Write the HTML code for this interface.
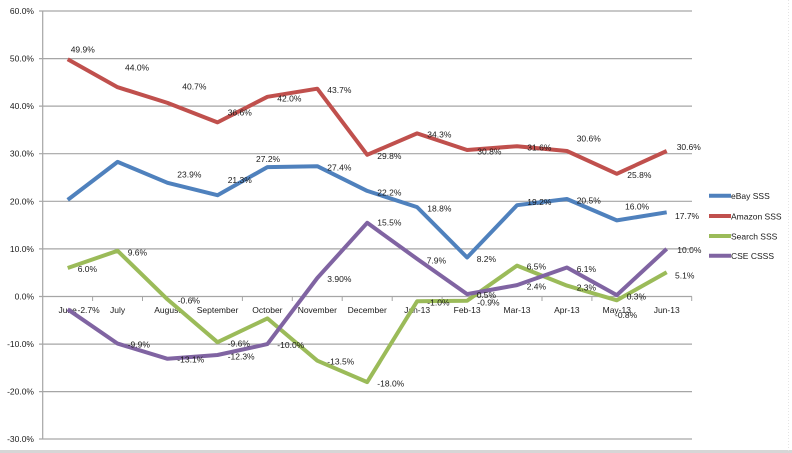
<!DOCTYPE html>
<html>
<head>
<meta charset="utf-8">
<style>
html,body{margin:0;padding:0;background:#fff;}
svg{display:block;}
text{font-family:"Liberation Sans",sans-serif;font-size:8.5px;fill:#1a1a1a;}
</style>
</head>
<body>
<svg width="792" height="453" viewBox="0 0 792 453" xmlns="http://www.w3.org/2000/svg">
<rect x="0" y="0" width="792" height="453" fill="#fff"/>
<!-- gridlines -->
<g stroke="#a6a6a6" stroke-width="1.2">
<line x1="39" y1="11" x2="692" y2="11"/>
<line x1="39" y1="58.6" x2="692" y2="58.6"/>
<line x1="39" y1="106.1" x2="692" y2="106.1"/>
<line x1="39" y1="153.7" x2="692" y2="153.7"/>
<line x1="39" y1="201.3" x2="692" y2="201.3"/>
<line x1="39" y1="248.9" x2="692" y2="248.9"/>
<line x1="39" y1="296.5" x2="692" y2="296.5"/>
<line x1="39" y1="344.1" x2="692" y2="344.1"/>
<line x1="39" y1="391.6" x2="692" y2="391.6"/>
<line x1="39" y1="439" x2="692" y2="439"/>
<line x1="42.7" y1="11" x2="42.7" y2="439"/>
</g>
<!-- x ticks -->
<g stroke="#a6a6a6" stroke-width="1">
<line x1="92.6" y1="296.5" x2="92.6" y2="301"/>
<line x1="142.5" y1="296.5" x2="142.5" y2="301"/>
<line x1="192.5" y1="296.5" x2="192.5" y2="301"/>
<line x1="242.4" y1="296.5" x2="242.4" y2="301"/>
<line x1="292.3" y1="296.5" x2="292.3" y2="301"/>
<line x1="342.2" y1="296.5" x2="342.2" y2="301"/>
<line x1="392.2" y1="296.5" x2="392.2" y2="301"/>
<line x1="442.1" y1="296.5" x2="442.1" y2="301"/>
<line x1="492.0" y1="296.5" x2="492.0" y2="301"/>
<line x1="542.0" y1="296.5" x2="542.0" y2="301"/>
<line x1="591.9" y1="296.5" x2="591.9" y2="301"/>
<line x1="641.8" y1="296.5" x2="641.8" y2="301"/>
<line x1="691.7" y1="296.5" x2="691.7" y2="301"/>
</g>
<!-- bottom band -->
<rect x="0" y="450" width="792" height="3" fill="#d6d6d6"/>
<line x1="788.5" y1="0" x2="788.5" y2="453" stroke="#e4e4e4" stroke-width="1" stroke-dasharray="1,2"/>
<!-- y labels -->
<g text-anchor="end">
<text x="34" y="14">60.0%</text>
<text x="34" y="61.6">50.0%</text>
<text x="34" y="109.1">40.0%</text>
<text x="34" y="156.7">30.0%</text>
<text x="34" y="204.3">20.0%</text>
<text x="34" y="251.9">10.0%</text>
<text x="34" y="299.5">0.0%</text>
<text x="34" y="347.1">-10.0%</text>
<text x="34" y="394.6">-20.0%</text>
<text x="34" y="442">-30.0%</text>
</g>
<!-- category labels -->
<g text-anchor="middle">
<text x="67.7" y="313">June</text>
<text x="117.6" y="313">July</text>
<text x="167.5" y="313">August</text>
<text x="217.5" y="313">September</text>
<text x="267.4" y="313">October</text>
<text x="317.3" y="313">November</text>
<text x="367.2" y="313">December</text>
<text x="417.1" y="313">Jan-13</text>
<text x="467.1" y="313">Feb-13</text>
<text x="517.0" y="313">Mar-13</text>
<text x="566.9" y="313">Apr-13</text>
<text x="616.8" y="313">May-13</text>
<text x="666.7" y="313">Jun-13</text>
</g>
<!-- series -->
<g fill="none" stroke-width="4" stroke-linejoin="round">
<polyline stroke="#4F81BD" points="67.7,199.9 117.6,161.9 167.5,182.8 217.5,195.2 267.4,167.1 317.3,166.2 367.2,190.9 417.1,207.1 467.1,257.5 517.0,205.2 566.9,199.0 616.8,220.4 666.7,212.3"/>
<polyline stroke="#C0504D" points="67.7,59.2 117.6,87.2 167.5,102.9 217.5,122.4 267.4,96.8 317.3,88.7 367.2,154.8 417.1,133.4 467.1,150.0 517.0,146.2 566.9,151.0 616.8,173.8 666.7,151.0"/>
<polyline stroke="#9BBB59" points="67.7,268.0 117.6,250.8 167.5,299.4 217.5,342.2 267.4,318.4 317.3,360.7 367.2,382.1 417.1,301.3 467.1,300.8 517.0,265.6 566.9,285.6 616.8,300.3 666.7,272.2"/>
<polyline stroke="#8064A2" points="67.7,309.3 117.6,343.6 167.5,358.8 217.5,355.0 267.4,344.1 317.3,278.0 367.2,222.8 417.1,258.9 467.1,294.1 517.0,285.1 566.9,267.5 616.8,295.1 666.7,248.9"/>
</g>
<!-- data labels -->
<g dominant-baseline="central">
<text x="70.7" y="49.3">49.9%</text>
<text x="125" y="67.7">44.0%</text>
<text x="182.3" y="86.7">40.7%</text>
<text x="227.7" y="112.7">36.6%</text>
<text x="277.3" y="98.3">42.0%</text>
<text x="327.3" y="90">43.7%</text>
<text x="377.3" y="156">29.8%</text>
<text x="427.3" y="134.7">34.3%</text>
<text x="477.3" y="151.7">30.8%</text>
<text x="527.3" y="147.3">31.6%</text>
<text x="576.7" y="138.7">30.6%</text>
<text x="627.3" y="175">25.8%</text>
<text x="676.7" y="147">30.6%</text>

<text x="177.3" y="174.3">23.9%</text>
<text x="227.7" y="180">21.3%</text>
<text x="256" y="159">27.2%</text>
<text x="327.3" y="167.7">27.4%</text>
<text x="377.3" y="192.3">22.2%</text>
<text x="427.3" y="208.7">18.8%</text>
<text x="476.7" y="259">8.2%</text>
<text x="527.3" y="202">19.2%</text>
<text x="576.7" y="200.3">20.5%</text>
<text x="625" y="206.7">16.0%</text>
<text x="675" y="216">17.7%</text>

<text x="77.7" y="269">6.0%</text>
<text x="127.7" y="252.3">9.6%</text>
<text x="177.7" y="300.7">-0.6%</text>
<text x="227.7" y="343.3">-9.6%</text>
<text x="327.3" y="361.7">-13.5%</text>
<text x="377.3" y="383.3">-18.0%</text>
<text x="427.3" y="302.3">-1.0%</text>
<text x="477.3" y="302.3">-0.9%</text>
<text x="526.7" y="266.7">6.5%</text>
<text x="576.7" y="287.3">2.3%</text>
<text x="615" y="315">-0.8%</text>
<text x="675" y="275.7">5.1%</text>

<text x="77.5" y="310">-2.7%</text>
<text x="127.7" y="344.3">-9.9%</text>
<text x="177.3" y="359.3">-13.1%</text>
<text x="227.7" y="356.7">-12.3%</text>
<text x="277.3" y="345">-10.0%</text>
<text x="327.3" y="279">3.90%</text>
<text x="377.3" y="222.7">15.5%</text>
<text x="426.7" y="260.7">7.9%</text>
<text x="476.7" y="295">0.5%</text>
<text x="526.7" y="286.7">2.4%</text>
<text x="576.7" y="269">6.1%</text>
<text x="626.7" y="296.7">0.3%</text>
<text x="677.3" y="250">10.0%</text>
</g>
<!-- legend -->
<g stroke-width="4">
<line x1="709" y1="195.7" x2="731" y2="195.7" stroke="#4F81BD"/>
<line x1="709" y1="216" x2="731" y2="216" stroke="#C0504D"/>
<line x1="709" y1="236" x2="731" y2="236" stroke="#9BBB59"/>
<line x1="709" y1="255.7" x2="731" y2="255.7" stroke="#8064A2"/>
</g>
<g dominant-baseline="central">
<text x="731" y="196">eBay SSS</text>
<text x="731" y="216.3">Amazon SSS</text>
<text x="731" y="236.3">Search SSS</text>
<text x="731" y="256">CSE CSSS</text>
</g>
</svg>
</body>
</html>
